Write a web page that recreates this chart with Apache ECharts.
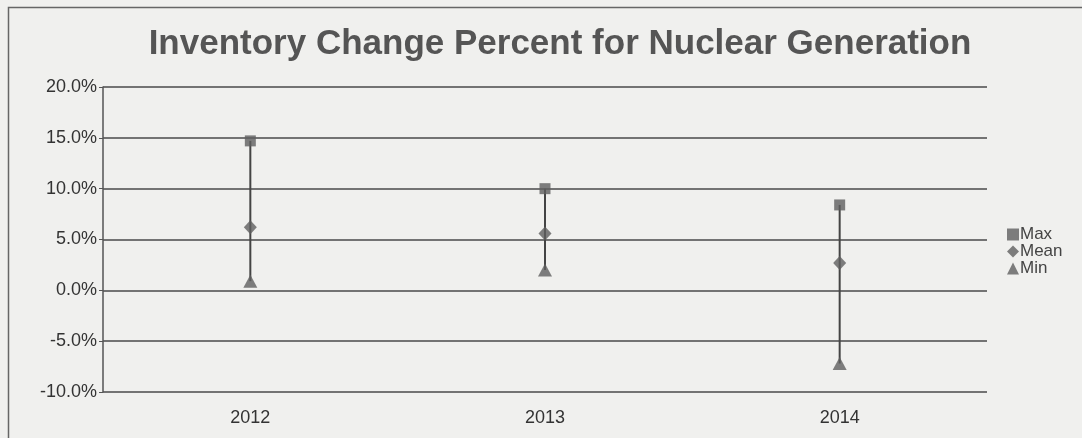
<!DOCTYPE html>
<html><head><meta charset="utf-8">
<script src="https://cdn.jsdelivr.net/npm/echarts@6/dist/echarts.min.js"></script>
<style>html,body{margin:0;padding:0;background:#f0f0ee;}#c{width:1082px;height:438px;}</style>
</head><body><div id="c"></div>
<script>
const categories = ['2012', '2013', '2014'];
const maxValues = [14.7, 10.0, 8.4];
const meanValues = [6.2, 5.6, 2.7];
const minValues = [0.9, 2.0, -7.2];
const yTicks = [-10, -5, 0, 5, 10, 15, 20];

const FONT = '"Liberation Sans", Arial, sans-serif';
const chart = echarts.init(document.getElementById('c'));
const markColor = '#5f5f5f';
chart.setOption({
  backgroundColor: '#f0f0ee',
  animation: false,
  title: {
    text: 'Inventory Change Percent for Nuclear Generation',
    left: 555, top: 22, textAlign: 'center',
    textStyle: {fontFamily: FONT, fontSize: 35, fontWeight: 'bold', color: '#555'}
  },
  graphic: [{type: 'rect', shape: {x: 8.5, y: 7.5, width: 1080, height: 440}, style: {fill: 'none', stroke: '#666', lineWidth: 1.5}, silent: true}],
  legend: {
    orient: 'vertical', left: 1002, top: 221, itemGap: 0, itemWidth: 12, itemHeight: 12,
    textStyle: {fontFamily: FONT, fontSize: 17, color: '#444', padding: [0,0,0,-4]},
    data: [{name: 'Max', icon: 'rect'}, {name: 'Mean', icon: 'diamond'}, {name: 'Min', icon: 'triangle'}]
  },
  grid: {left: 103, right: 95, top: 87, bottom: 46},
  xAxis: {
    type: 'category', data: categories, boundaryGap: true,
    axisLine: {show: false}, axisTick: {show: false},
    axisLabel: {fontFamily: FONT, fontSize: 18, color: '#333', margin: 17}
  },
  yAxis: {
    type: 'value', min: yTicks[0], max: yTicks[yTicks.length - 1], interval: 5,
    axisLine: {show: true, lineStyle: {color: '#555', width: 1.5}},
    axisTick: {show: true, length: 4, lineStyle: {color: '#555'}},
    axisLabel: {fontFamily: FONT, fontSize: 18, color: '#333', margin: 6, formatter: v => v.toFixed(1) + '%'},
    splitLine: {lineStyle: {color: '#4a4a4a', width: 1.5}}
  },
  series: [
    {
      type: 'custom', name: 'range', silent: true, z: 1,
      data: categories.map((c, i) => [i, minValues[i], maxValues[i]]),
      renderItem: function (params, api) {
        const lo = api.coord([api.value(0), api.value(1)]);
        const hi = api.coord([api.value(0), api.value(2)]);
        return {type: 'line', shape: {x1: lo[0], y1: lo[1], x2: hi[0], y2: hi[1]}, style: {stroke: '#444', lineWidth: 2}};
      }
    },
    {name: 'Max', type: 'scatter', data: maxValues, symbol: 'rect', symbolSize: 11, itemStyle: {color: markColor}, z: 3},
    {name: 'Mean', type: 'scatter', data: meanValues, symbol: 'diamond', symbolSize: [13, 14], itemStyle: {color: markColor}, z: 3},
    {name: 'Min', type: 'scatter', data: minValues, symbol: 'triangle', symbolSize: [14, 13], itemStyle: {color: markColor}, z: 3}
  ]
});
</script></body></html>
